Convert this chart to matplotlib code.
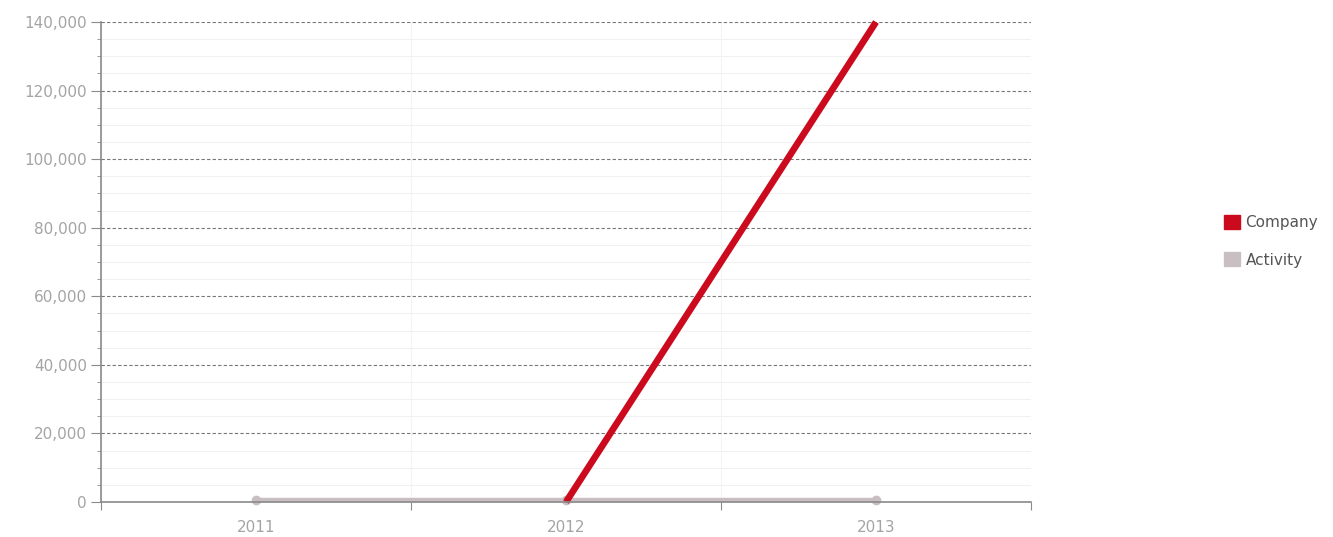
import matplotlib.pyplot as plt
import matplotlib.transforms as mtransforms
from matplotlib.ticker import FuncFormatter, MultipleLocator
from matplotlib.patches import Patch

years = ["2011", "2012", "2013"]
company = [None, 0, 140000]
activity = [0, 0, 0]

RED = "#cc0a1e"
GREY_LINE = "#c9bfc2"
TEXT = "#a4a4a4"


def main() -> None:
    fig = plt.figure(figsize=(13.33, 5.37), dpi=100)
    ax = fig.add_axes([101 / 1333, 35 / 537, 930 / 1333, 480 / 537])

    x = list(range(len(years)))
    cx = [i for i, v in zip(x, company) if v is not None]
    cy = [v for v in company if v is not None]

    # nudge the flat series up a touch so it sits on top of the axis line
    lift = ax.transData + mtransforms.ScaledTranslation(0, 2.5 / 100, fig.dpi_scale_trans)
    ax.plot(x, activity, color=GREY_LINE, linewidth=3.2, solid_capstyle="round",
            marker="o", markersize=6, zorder=3, clip_on=False, transform=lift)
    ax.plot(cx, cy, color=RED, linewidth=4.8, solid_capstyle="butt", zorder=4,
            clip_on=False)

    ax.set_xlim(-0.5, 2.5)
    ax.set_ylim(0, 140000)

    ax.yaxis.set_major_locator(MultipleLocator(20000))
    ax.yaxis.set_minor_locator(MultipleLocator(5000))
    ax.yaxis.set_major_formatter(FuncFormatter(lambda v, _: f"{int(v):,}"))

    ax.set_xticks([-0.5, 0.5, 1.5, 2.5])
    ax.set_xticklabels([])
    ax.set_xticks(x, minor=True)
    ax.set_xticklabels(years, minor=True)

    ax.grid(axis="y", which="major", color="#777777", linestyle=(0, (3, 2)),
            linewidth=0.8)
    ax.grid(axis="y", which="minor", color="#f1f1f1", linewidth=0.8)
    ax.grid(axis="x", which="major", color="#f4f4f4", linewidth=0.8)
    ax.set_axisbelow(True)

    for side in ("top", "right"):
        ax.spines[side].set_visible(False)
    for side in ("left", "bottom"):
        ax.spines[side].set_color("#8a8a8a")
        ax.spines[side].set_linewidth(1.2)
        ax.spines[side].set_zorder(5)

    ax.tick_params(axis="y", which="major", length=7, color="#8a8a8a",
                   labelcolor=TEXT, labelsize=11, pad=3)
    ax.tick_params(axis="y", which="minor", length=3, color="#8a8a8a")
    ax.tick_params(axis="x", which="major", length=6, color="#8a8a8a")
    ax.tick_params(axis="x", which="minor", length=0, labelcolor=TEXT,
                   labelsize=11, pad=13)

    handles = [Patch(facecolor=RED, edgecolor=RED), Patch(facecolor=GREY_LINE,
               edgecolor=GREY_LINE)]
    fig.legend(handles, ["Company", "Activity"], loc="upper left",
               bbox_to_anchor=(1212 / 1333, 1 - 203 / 537), frameon=False,
               handlelength=1.0, handleheight=1.0, handletextpad=0.4,
               labelspacing=1.45, fontsize=11, labelcolor="#555555",
               borderpad=0.3)

    fig.savefig("out.png", dpi=100)
    plt.close(fig)


if __name__ == "__main__":
    main()
